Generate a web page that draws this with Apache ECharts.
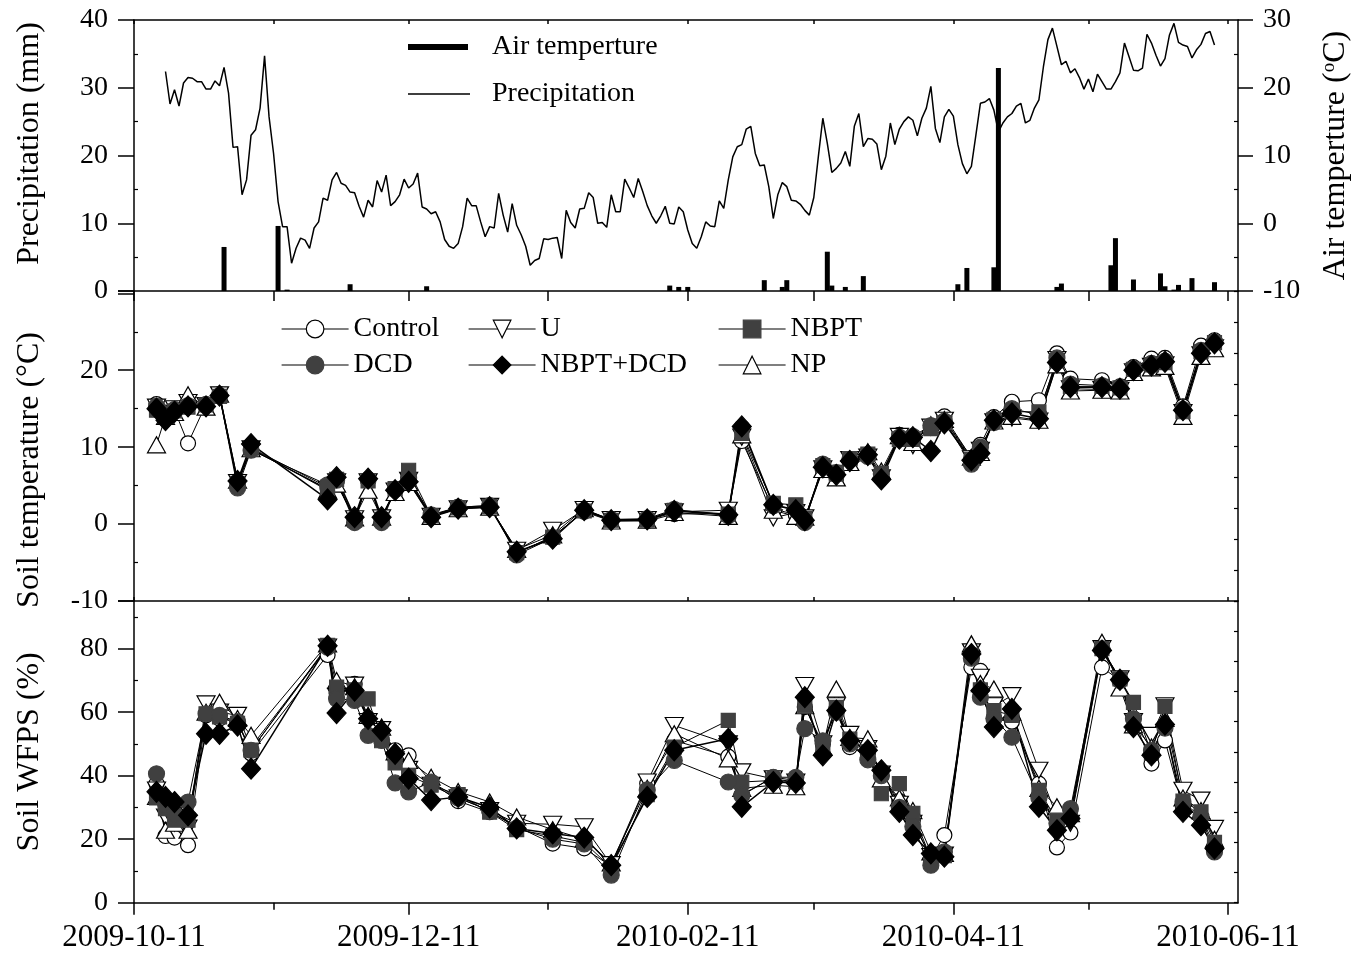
<!DOCTYPE html>
<html lang="en">
<head>
<meta charset="UTF-8">
<title>Precipitation, air temperature, soil temperature and WFPS</title>
<script src="https://cdn.jsdelivr.net/npm/echarts@6/dist/echarts.min.js"></script>
<style>
  body { margin: 0; background: #fff; }
  #chart { width: 1355px; height: 960px; }
</style>
</head>
<body>
<div id="chart"></div>
<script>
// ---- data ----
// daily air temperature, first value on 2009-10-18
const airTempStart = '2009-10-18';
const airTemp = [
  22.4, 17.6, 19.7, 17.3, 20.7, 21.5, 21.4, 20.9, 20.9, 19.8,
  19.8, 21.0, 20.3, 23.0, 19.2, 11.2, 11.3, 4.2, 6.4, 13.0,
  13.8, 17.0, 24.7, 15.7, 10.3, 3.2, -0.5, -0.5, -5.9, -3.7,
  -2.2, -2.5, -3.7, -0.7, 0.2, 3.7, 3.4, 6.4, 7.5, 5.9,
  5.6, 4.6, 4.5, 2.5, 0.9, 3.4, 2.4, 6.3, 4.6, 7.1,
  2.6, 3.2, 4.2, 6.5, 5.2, 5.8, 7.4, 2.4, 2.1, 1.4,
  1.7, 0.2, -2.4, -3.4, -3.7, -3.0, -0.5, 3.7, 2.6, 2.6,
  0.2, -2.0, -0.5, -0.7, 4.4, 1.2, -1.3, 2.9, -0.3, -1.7,
  -3.4, -6.2, -5.5, -5.2, -2.3, -2.4, -2.2, -2.1, -5.2, 1.9,
  0.1, -0.7, 2.1, 2.2, 4.5, 3.8, 0.0, 0.1, -0.6, 4.2,
  1.7, 1.7, 6.5, 5.2, 3.8, 6.6, 4.7, 2.6, 1.1, 0.0,
  1.1, 2.5, 0.0, -0.1, 2.4, 1.7, -1.0, -3.0, -3.7, -2.0,
  0.2, -0.4, -0.5, 3.3, 2.2, 6.4, 9.8, 11.3, 11.6, 13.9,
  14.3, 10.3, 8.5, 8.6, 5.4, 0.7, 4.2, 6.0, 5.4, 3.4,
  3.3, 2.8, 1.9, 1.2, 3.8, 9.8, 15.5, 11.8, 7.5, 8.1,
  8.9, 10.6, 8.4, 14.3, 16.2, 11.3, 12.5, 12.4, 11.7, 7.9,
  9.9, 14.8, 11.6, 13.9, 15.0, 15.7, 15.2, 12.9, 15.5, 17.0,
  20.2, 14.0, 11.9, 15.7, 16.8, 15.8, 11.6, 8.8, 7.3, 8.4,
  13.0, 17.7, 17.9, 18.4, 16.7, 13.5, 14.8, 15.7, 16.2, 17.3,
  17.7, 14.8, 15.2, 17.0, 18.2, 23.1, 27.1, 28.8, 26.1, 23.4,
  23.9, 22.2, 22.8, 21.5, 19.8, 21.3, 19.4, 22.0, 20.9, 19.8,
  19.8, 20.9, 22.2, 26.6, 24.6, 22.6, 22.5, 22.9, 27.9, 26.6,
  24.8, 23.2, 24.3, 27.8, 29.5, 26.7, 26.3, 26.1, 24.4, 25.6,
  26.4, 28.0, 28.3, 26.3
];

const precipDates = [
  '2009-10-31', '2009-11-12', '2009-11-14', '2009-11-28', '2009-12-15',
  '2010-02-07', '2010-02-09', '2010-02-11', '2010-02-28', '2010-03-04',
  '2010-03-05', '2010-03-14', '2010-03-15', '2010-03-18', '2010-03-22',
  '2010-04-12', '2010-04-14', '2010-04-20', '2010-04-21', '2010-05-04',
  '2010-05-05', '2010-05-16', '2010-05-17', '2010-05-21', '2010-05-27',
  '2010-05-28', '2010-05-30', '2010-05-31', '2010-06-03', '2010-06-08'
];
const precipMm = [
  6.5, 9.6, 0.2, 1.0, 0.7,
  0.8, 0.6, 0.6, 1.6, 0.6,
  1.6, 5.8, 0.8, 0.6, 2.2,
  1.0, 3.4, 3.5, 32.9, 0.6,
  1.1, 3.8, 7.8, 1.7, 2.6,
  0.7, 0.2, 0.9, 1.9, 1.3
];

// sampling dates for soil measurements
const sampleDates = [
  '2009-10-16', '2009-10-18', '2009-10-20', '2009-10-23', '2009-10-27', '2009-10-30',
  '2009-11-03', '2009-11-06', '2009-11-23', '2009-11-25', '2009-11-29',
  '2009-12-02', '2009-12-05', '2009-12-08', '2009-12-11', '2009-12-16', '2009-12-22', '2009-12-29',
  '2010-01-04', '2010-01-12', '2010-01-19', '2010-01-25',
  '2010-02-02', '2010-02-08', '2010-02-20', '2010-02-23',
  '2010-03-02', '2010-03-07', '2010-03-09', '2010-03-13', '2010-03-16', '2010-03-19',
  '2010-03-23', '2010-03-26', '2010-03-30',
  '2010-04-02', '2010-04-06', '2010-04-09', '2010-04-15', '2010-04-17', '2010-04-20',
  '2010-04-24', '2010-04-30',
  '2010-05-04', '2010-05-07', '2010-05-14', '2010-05-18', '2010-05-21', '2010-05-25', '2010-05-28',
  '2010-06-01', '2010-06-05', '2010-06-08'
];

// soil temperature (°C)
const tempControl = [15.6, 14.5, 14.8, 10.5, 15.6, 16.9, 5.2, 9.7, 4.6, 5.6,
  0.6, 5.7, 0.7, 4.5, 5.9, 1.1, 2.2, 2.4, -3.8, -1.6,
  1.6, 0.4, 0.4, 1.3, 1.4, 10.8, 2.0, 1.2, 0.6, 7.0,
  6.2, 8.0, 8.9, 6.2, 11.6, 10.9, 12.5, 14.0, 8.6, 10.3,
  13.9, 15.9, 16.1, 22.2, 18.9, 18.7, 17.9, 20.4, 21.5, 21.6,
  15.3, 23.2, 23.9];
const tempU = [15.2, 14.2, 15.0, 15.8, 15.4, 16.8, 5.4, 9.8, 4.5, 5.5,
  0.7, 5.5, 0.8, 4.3, 5.7, 1.0, 2.0, 2.3, -3.4, -0.8,
  1.9, 0.6, 0.6, 1.6, 1.8, 11.3, 0.8, 1.5, 0.8, 7.2,
  6.6, 8.4, 8.7, 6.0, 11.4, 10.2, 12.6, 13.5, 8.5, 9.6,
  13.3, 13.8, 13.4, 21.4, 17.6, 17.5, 17.4, 19.8, 20.5, 20.7,
  14.5, 22.0, 22.9];
const tempNBPT = [14.8, 14.0, 14.7, 15.2, 15.5, 16.6, 5.3, 9.9, 4.8, 5.8,
  0.5, 5.6, 0.6, 4.6, 7.0, 1.1, 2.1, 2.3, -3.7, -1.7,
  1.7, 0.5, 0.5, 1.8, 1.3, 11.8, 2.7, 2.5, 0.7, 7.6,
  6.5, 8.5, 9.1, 6.6, 11.0, 11.0, 12.4, 13.2, 8.4, 9.5,
  13.6, 14.6, 14.6, 21.2, 17.9, 17.9, 17.7, 20.1, 20.7, 21.0,
  14.6, 22.4, 23.6];
const tempDCD = [15.3, 14.3, 14.9, 15.4, 15.5, 16.7, 4.7, 9.6, 5.1, 5.7,
  0.2, 5.8, 0.2, 4.5, 6.0, 1.2, 2.2, 2.4, -4.0, -1.8,
  1.8, 0.6, 0.7, 1.9, 1.1, 12.5, 2.4, 2.0, 0.2, 7.8,
  6.7, 8.4, 8.8, 6.5, 11.3, 11.4, 12.8, 13.4, 7.8, 10.0,
  13.2, 15.0, 14.2, 21.6, 18.2, 18.0, 17.8, 20.2, 20.9, 21.2,
  14.9, 22.6, 23.7];
const tempNBPTDCD = [15.0, 13.5, 14.6, 15.3, 15.3, 16.7, 5.6, 10.4, 3.2, 6.1,
  0.9, 5.9, 0.9, 4.4, 5.5, 0.9, 2.0, 2.2, -3.6, -1.9,
  1.8, 0.5, 0.6, 1.7, 1.2, 12.7, 2.5, 1.8, 0.5, 7.4,
  6.4, 8.2, 9.0, 5.8, 11.1, 11.3, 9.5, 13.1, 8.3, 9.2,
  13.5, 14.4, 13.7, 21.0, 17.8, 17.8, 17.6, 20.0, 20.6, 21.1,
  14.8, 22.2, 23.5];
const tempNP = [10.3, 14.0, 14.5, 16.8, 15.2, 16.9, 5.7, 9.8, 4.4, 5.2,
  0.8, 4.4, 0.9, 4.1, 5.4, 1.0, 2.0, 2.2, -3.3, -1.4,
  2.0, 0.4, 0.5, 1.5, 1.0, 11.6, 1.8, 1.0, 0.9, 7.1,
  6.0, 8.0, 9.4, 6.9, 11.5, 10.6, 12.9, 13.6, 8.7, 9.3,
  13.4, 14.0, 13.5, 20.7, 17.3, 17.4, 17.3, 19.7, 20.3, 20.5,
  14.0, 21.8, 22.8];

// soil WFPS (%)
const wfpsControl = [37.5, 21.0, 20.5, 18.1, 59.0, 58.0, 57.0, 47.0, 78.0, 66.0,
  68.9, 58.0, 54.0, 48.0, 46.4, 38.0, 32.0, 28.5, 24.0, 18.6,
  17.1, 11.5, 37.5, 51.1, 46.0, 34.0, 39.5, 38.5, 61.6, 50.0,
  61.0, 49.0, 47.0, 40.0, 32.0, 26.0, 14.0, 21.3, 74.1, 73.0,
  58.0, 57.0, 37.5, 17.4, 22.1, 74.1, 70.0, 58.0, 43.8, 51.1,
  30.0, 27.0, 18.0];
const wfpsU = [35.5, 27.0, 25.0, 23.5, 62.6, 60.0, 59.0, 49.0, 80.5, 65.0,
  68.5, 57.0, 54.5, 45.0, 42.0, 37.0, 33.0, 29.0, 25.0, 24.7,
  23.9, 12.0, 38.0, 55.8, 50.0, 41.2, 39.0, 38.0, 68.4, 50.0,
  62.0, 53.0, 48.5, 40.5, 31.0, 25.0, 14.5, 15.0, 79.0, 71.0,
  62.0, 65.2, 41.7, 27.0, 25.0, 80.0, 70.5, 57.0, 52.7, 62.0,
  35.4, 32.3, 23.4];
const wfpsNBPT = [33.0, 29.6, 26.0, 26.0, 59.5, 58.5, 56.5, 48.0, 81.0, 67.9,
  67.0, 64.2, 51.0, 44.0, 40.0, 37.0, 34.0, 28.5, 23.0, 21.0,
  19.0, 11.0, 34.0, 49.0, 57.4, 38.0, 38.5, 38.0, 62.0, 49.0,
  61.5, 51.5, 47.5, 34.3, 37.5, 28.1, 14.0, 14.8, 78.0, 67.0,
  60.5, 59.0, 35.4, 26.0, 28.0, 80.0, 70.5, 63.1, 47.0, 61.8,
  32.0, 28.6, 19.0];
const wfpsDCD = [40.6, 31.0, 28.0, 31.7, 59.5, 59.0, 57.0, 48.0, 80.5, 64.2,
  63.7, 52.7, 51.1, 37.7, 34.9, 38.0, 33.0, 29.0, 23.5, 20.0,
  18.5, 8.7, 35.5, 44.8, 38.0, 33.8, 39.5, 39.5, 54.8, 51.0,
  60.0, 50.0, 45.0, 40.0, 30.0, 24.0, 11.8, 16.0, 77.0, 64.7,
  58.0, 52.1, 33.0, 25.0, 29.6, 80.0, 70.0, 57.9, 48.0, 55.0,
  31.7, 27.0, 16.0];
const wfpsNBPTDCD = [34.9, 33.3, 31.7, 27.5, 53.2, 53.2, 55.8, 42.2, 80.9, 59.7,
  66.8, 57.9, 54.2, 46.9, 39.1, 32.3, 33.3, 30.0, 23.4, 21.8,
  20.5, 11.8, 33.3, 48.0, 51.6, 30.2, 38.0, 37.7, 64.7, 46.4,
  60.5, 51.1, 48.0, 41.7, 28.6, 21.3, 15.5, 14.5, 78.3, 66.8,
  55.3, 61.0, 30.2, 22.8, 26.5, 79.4, 70.2, 55.3, 46.4, 56.1,
  28.6, 24.4, 17.1];
const wfpsNP = [33.5, 22.8, 25.0, 22.8, 60.0, 63.1, 58.0, 52.7, 81.5, 70.0,
  68.0, 59.0, 55.3, 47.5, 44.8, 39.5, 35.0, 31.7, 27.0, 23.0,
  20.0, 12.5, 36.0, 53.2, 45.3, 36.0, 37.0, 36.5, 62.0, 49.0,
  67.3, 52.0, 51.6, 39.0, 33.0, 29.0, 16.0, 15.5, 81.5, 69.0,
  67.3, 60.0, 36.0, 30.2, 28.0, 82.0, 67.6, 56.0, 49.0, 58.0,
  33.0, 29.0, 20.0];

// x ticks: labelled every two months, small ticks in between
const labelDates = ['2009-10-11', '2009-12-11', '2010-02-11', '2010-04-11', '2010-06-11'];
const minorDates = ['2009-11-11', '2010-01-11', '2010-03-11', '2010-05-11'];
const allTickDates = labelDates.concat(minorDates);

// ---- helpers ----
const FONT = 'Liberation Serif';
const BLACK = '#000';
const DAY_MS = 86400000;

function day(s) {
  const p = s.split('-');
  return new Date(+p[0], +p[1] - 1, +p[2]).getTime();
}
function fmtDate(v) {
  const d = new Date(Math.round(v));
  const pad = n => (n < 10 ? '0' : '') + n;
  return d.getFullYear() + '-' + pad(d.getMonth() + 1) + '-' + pad(d.getDate());
}

const xMin = day('2009-10-11');
const xMax = day('2010-06-13') + 5.3 * 3600 * 1000;

const airTempData = airTemp.map((v, i) => [day(airTempStart) + i * DAY_MS, v]);
const precipData = precipDates.map((d, i) => [day(d), precipMm[i]]);
const pair = vals => sampleDates.map((d, i) => [day(d), vals[i]]);

const treatStyle = {
  'Control':  { symbol: 'circle', size: 15, fill: '#fff', border: BLACK, rotate: 0 },
  'U':        { symbol: 'triangle', size: [18, 16], fill: '#fff', border: BLACK, rotate: 180 },
  'NBPT':     { symbol: 'rect', size: 14, fill: '#404040', border: '#404040', rotate: 0 },
  'DCD':      { symbol: 'circle', size: 16, fill: '#404040', border: '#404040', rotate: 0 },
  'NBPT+DCD': { symbol: 'diamond', size: [19, 21], fill: BLACK, border: BLACK, rotate: 0 },
  'NP':       { symbol: 'triangle', size: [18, 16], fill: '#fff', border: BLACK, rotate: 0 }
};

function treatSeries(name, vals, xIdx, yIdx) {
  const st = treatStyle[name];
  return {
    name: name, type: 'line', xAxisIndex: xIdx, yAxisIndex: yIdx,
    data: pair(vals),
    symbol: st.symbol, symbolSize: st.size, symbolRotate: st.rotate,
    itemStyle: { color: st.fill, borderColor: st.border, borderWidth: 1.2 },
    lineStyle: { color: BLACK, width: name === 'NBPT+DCD' ? 1.5 : 1 },
    emphasis: { disabled: true },
    z: 3
  };
}

function legendItem(name) {
  const st = treatStyle[name];
  return { name: name, itemStyle: { color: st.fill, borderColor: st.border, borderWidth: 1.2 },
           lineStyle: { color: BLACK, width: 1.2 } };
}

const axisLineStyle = { color: BLACK, width: 1.5 };
const tickFont = { fontFamily: FONT, fontSize: 28, color: BLACK };
const nameFont = { fontFamily: FONT, fontSize: 32, color: BLACK };
const legendFont = { fontFamily: FONT, fontSize: 28, color: BLACK, lineHeight: 30 };

// x axes are plain value axes holding timestamps, ticks placed by customValues
function dateAxis(gridIndex, position, tickDates, tickLen, inside, labelled) {
  return {
    type: 'value', gridIndex: gridIndex, position: position, min: xMin, max: xMax,
    axisLine: { show: true, onZero: false, lineStyle: axisLineStyle },
    axisTick: { show: true, inside: inside, length: tickLen, customValues: tickDates.map(day),
                lineStyle: { color: BLACK, width: 1.5 } },
    axisLabel: labelled
      ? { show: true, customValues: labelDates.map(day), formatter: v => fmtDate(v), margin: 20,
          fontFamily: FONT, fontSize: 31, color: BLACK }
      : { show: false },
    splitLine: { show: false }
  };
}

function blankRightAxis(gridIndex) {
  return {
    type: 'value', gridIndex: gridIndex, position: 'right', min: 0, max: 10, interval: 1,
    axisLine: { show: true, onZero: false, lineStyle: axisLineStyle },
    axisTick: { show: true, inside: true, length: 4, lineStyle: { color: BLACK, width: 1.2 } },
    axisLabel: { show: false },
    splitLine: { show: false }
  };
}

function treatLegend(left, names) {
  return {
    orient: 'vertical', left: left, top: 314, padding: 0,
    itemWidth: 67, itemHeight: 22, itemGap: 6, selectedMode: false,
    textStyle: legendFont,
    data: names.map(legendItem)
  };
}

const chart = echarts.init(document.getElementById('chart'), null, { renderer: 'canvas' });

const minorX = dateAxis(2, 'bottom', minorDates, 7, false, false);
minorX.axisLine = { show: false, onZero: false };

const option = {
  animation: false,
  backgroundColor: '#fff',
  textStyle: { fontFamily: FONT, color: BLACK },
  grid: [
    { left: 134, right: 117, top: 20, height: 271, outerBoundsMode: 'none' },
    { left: 134, right: 117, top: 291, height: 310, outerBoundsMode: 'none' },
    { left: 134, right: 117, top: 601, height: 301.7, outerBoundsMode: 'none' }
  ],
  legend: [
    {
      orient: 'vertical', left: 408, top: 32, padding: 0,
      itemWidth: 79, itemHeight: 6, itemGap: 17, selectedMode: false,
      textStyle: legendFont,
      data: [
        { name: 'Air temperture', icon: 'path://M0,0h60v6h-60zM79,0v6',
          itemStyle: { color: BLACK, borderWidth: 0 } },
        { name: 'Precipitation', icon: 'path://M0,2.25h62v1.5h-62zM79,0v6',
          itemStyle: { color: BLACK, borderWidth: 0 } }
      ]
    },
    treatLegend(281, ['Control', 'DCD']),
    treatLegend(468, ['U', 'NBPT+DCD']),
    treatLegend(718, ['NBPT', 'NP'])
  ],
  xAxis: [
    dateAxis(0, 'bottom', allTickDates, 10, false, false),
    dateAxis(0, 'top', allTickDates, 4, true, false),
    dateAxis(1, 'bottom', allTickDates, 4, true, false),
    dateAxis(2, 'bottom', labelDates, 12, false, true),
    minorX
  ],
  yAxis: [
    {
      type: 'value', gridIndex: 0, position: 'left', min: 0, max: 40, interval: 10,
      name: 'Precipitation (mm)', nameLocation: 'middle', nameGap: 88, nameRotate: 90,
      nameTextStyle: Object.assign({ padding: [0, 0, 0, 24] }, nameFont),
      axisLine: { show: true, lineStyle: axisLineStyle },
      axisTick: { show: true, inside: false, length: 16, lineStyle: { color: BLACK, width: 1.5 } },
      minorTick: { show: true, splitNumber: 2, length: -4, lineStyle: { color: BLACK, width: 1.2 } },
      axisLabel: Object.assign({ margin: 26 }, tickFont),
      splitLine: { show: false }
    },
    {
      type: 'value', gridIndex: 0, position: 'right', min: -10, max: 30, interval: 10,
      name: 'Air temperture ({sup|o}C)', nameLocation: 'middle', nameGap: 82, nameRotate: 90,
      nameTextStyle: Object.assign({
        rich: { sup: { fontFamily: FONT, fontSize: 19, color: BLACK, verticalAlign: 'top', padding: [0, 0, 12, 0] } }
      }, nameFont),
      axisLine: { show: true, lineStyle: axisLineStyle },
      axisTick: { show: true, inside: false, length: 15, lineStyle: { color: BLACK, width: 1.5 } },
      minorTick: { show: true, splitNumber: 2, length: -4, lineStyle: { color: BLACK, width: 1.2 } },
      axisLabel: Object.assign({ margin: 25 }, tickFont),
      splitLine: { show: false }
    },
    {
      type: 'value', gridIndex: 1, position: 'left', min: -10, max: 30.3, interval: 10,
      name: 'Soil temperature (°C)', nameLocation: 'middle', nameGap: 88, nameRotate: 90,
      nameTextStyle: Object.assign({ padding: [0, 48, 0, 0] }, nameFont),
      axisLine: { show: true, lineStyle: axisLineStyle },
      axisTick: { show: true, inside: false, length: 16, lineStyle: { color: BLACK, width: 1.5 } },
      minorTick: { show: true, splitNumber: 2, length: -4, lineStyle: { color: BLACK, width: 1.2 } },
      axisLabel: Object.assign({ margin: 26, formatter: v => (v <= 20 ? String(v) : '') }, tickFont),
      splitLine: { show: false }
    },
    blankRightAxis(1),
    {
      type: 'value', gridIndex: 2, position: 'left', min: 0, max: 95, interval: 20,
      name: 'Soil WFPS (%)', nameLocation: 'middle', nameGap: 88, nameRotate: 90,
      nameTextStyle: nameFont,
      axisLine: { show: true, lineStyle: axisLineStyle },
      axisTick: { show: true, inside: false, length: 16, lineStyle: { color: BLACK, width: 1.5 } },
      minorTick: { show: true, splitNumber: 2, length: -4, lineStyle: { color: BLACK, width: 1.2 } },
      axisLabel: Object.assign({ margin: 26, formatter: v => (v <= 80 ? String(v) : '') }, tickFont),
      splitLine: { show: false }
    },
    blankRightAxis(2)
  ],
  series: [
    {
      name: 'Precipitation', type: 'bar', xAxisIndex: 0, yAxisIndex: 0,
      data: precipData, barWidth: 5, itemStyle: { color: BLACK }, emphasis: { disabled: true }
    },
    {
      name: 'Air temperture', type: 'line', xAxisIndex: 0, yAxisIndex: 1,
      data: airTempData, symbol: 'none', itemStyle: { color: BLACK },
      lineStyle: { color: BLACK, width: 1.5 }, emphasis: { disabled: true }
    },
    treatSeries('Control', tempControl, 2, 2),
    treatSeries('U', tempU, 2, 2),
    treatSeries('NP', tempNP, 2, 2),
    treatSeries('NBPT', tempNBPT, 2, 2),
    treatSeries('DCD', tempDCD, 2, 2),
    treatSeries('NBPT+DCD', tempNBPTDCD, 2, 2),
    treatSeries('Control', wfpsControl, 3, 4),
    treatSeries('U', wfpsU, 3, 4),
    treatSeries('NP', wfpsNP, 3, 4),
    treatSeries('NBPT', wfpsNBPT, 3, 4),
    treatSeries('DCD', wfpsDCD, 3, 4),
    treatSeries('NBPT+DCD', wfpsNBPTDCD, 3, 4)
  ]
};

chart.setOption(option);
</script>
</body>
</html>
